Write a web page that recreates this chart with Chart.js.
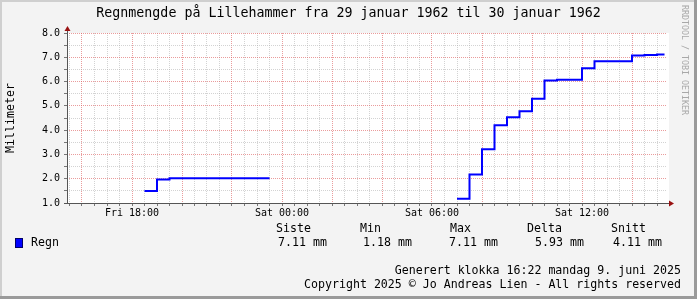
<!DOCTYPE html>
<html>
<head>
<meta charset="utf-8">
<script src="https://cdn.jsdelivr.net/npm/chart.js@4/dist/chart.umd.min.js"></script>
<style>
html,body{margin:0;padding:0;background:#f3f3f3;}
#wrap{width:697px;height:299px;position:relative;}
</style>
</head>
<body>
<div id="wrap"><canvas id="rain"></canvas></div>
<script>
// hours counted from Fri 00:00, each value holds until the next time
const sampleHours = [18.5, 19.0, 19.5, 20.0, 20.5, 21.0, 21.5, 22.0, 22.5, 23.0, 23.5, 24.0,
  31.0, 31.5, 32.0, 32.5, 33.0, 33.5, 34.0, 34.5, 35.0, 35.5, 36.0, 36.5, 37.0, 37.5, 38.0, 38.5, 39.0, 39.3];
const rainMm = [1.49, 1.97, 2.02, 2.02, 2.02, 2.02, 2.02, 2.02, 2.02, 2.02, 2.02, null,
  1.18, 2.17, 3.21, 4.20, 4.53, 4.78, 5.29, 6.04, 6.08, 6.08, 6.55, 6.84, 6.84, 6.84, 7.07, 7.09, 7.11, 7.11];

const labelHours = [18, 24, 30, 36];
const tickLabels = ["Fri 18:00", "Sat 00:00", "Sat 06:00", "Sat 12:00"];

const statNames = ["Siste", "Min", "Max", "Delta", "Snitt"];
const statValues = ["7.11 mm", "1.18 mm", "7.11 mm", "5.93 mm", "4.11 mm"];

const title = "Regnmengde på Lillehammer fra 29 januar 1962 til 30 januar 1962";
const footer1 = "Generert klokka 16:22 mandag 9. juni 2025";
const footer2 = "Copyright 2025 © Jo Andreas Lien - All rights reserved";

const MONO = '"DejaVu Sans Mono", monospace';
const majorGrid = "rgba(220,90,90,0.6)";
const minorGrid = "rgba(175,175,175,0.55)";

// -----------------------------
// background, frame, texts
// -----------------------------
const rrdLook = {
  id: "rrdLook",
  beforeDraw(chart){
    const c = chart.ctx, a = chart.chartArea;
    const W = chart.width, H = chart.height;
    c.save();
    c.fillStyle = "#f3f3f3";
    c.fillRect(0, 0, W, H);
    // shade
    c.fillStyle = "#cfcfcf";
    c.fillRect(0, 0, W, 2);
    c.fillRect(0, 0, 2, H);
    c.fillStyle = "#9a9a9a";
    c.fillRect(0, H - 3, W, 3);
    c.fillRect(W - 3, 0, 3, H);
    // canvas
    c.fillStyle = "#ffffff";
    c.fillRect(a.left, a.top, a.right - a.left + 2, a.bottom - a.top);
    c.restore();
  },
  beforeDatasetsDraw(chart){
    const c = chart.ctx, a = chart.chartArea;
    c.save();
    c.strokeStyle = "#555555";
    c.lineWidth = 1;
    c.beginPath();
    c.moveTo(a.left + 0.5, a.bottom);
    c.lineTo(a.left + 0.5, a.top - 3);
    c.moveTo(a.left - 3, a.bottom + 0.5);
    c.lineTo(a.right + 3, a.bottom + 0.5);
    c.stroke();
    c.fillStyle = "#991111";
    c.beginPath();
    c.moveTo(a.left + 0.5, a.top - 7);
    c.lineTo(a.left - 2.5, a.top - 2);
    c.lineTo(a.left + 3.5, a.top - 2);
    c.closePath();
    c.fill();
    c.beginPath();
    c.moveTo(a.right + 7, a.bottom + 0.5);
    c.lineTo(a.right + 2, a.bottom - 2.5);
    c.lineTo(a.right + 2, a.bottom + 3.5);
    c.closePath();
    c.fill();
    c.restore();
  },
  afterDraw(chart){
    const c = chart.ctx, W = chart.width;
    c.save();
    c.fillStyle = "#000000";
    c.textBaseline = "middle";

    c.font = "13.3px " + MONO;
    c.textAlign = "center";
    c.fillText(title, W / 2, 14);

    c.font = "11.6px " + MONO;
    c.save();
    c.translate(11, 118);
    c.rotate(-Math.PI / 2);
    c.fillText("Millimeter", 0, 0);
    c.restore();

    // watermark
    c.save();
    c.fillStyle = "#a8a8a8";
    c.font = "8.3px " + MONO;
    c.textAlign = "left";
    c.translate(684, 5);
    c.rotate(Math.PI / 2);
    c.fillText("RRDTOOL / TOBI OETIKER", 0, 0);
    c.restore();

    // legend
    c.textAlign = "left";
    const cols = [276, 360, 450, 527, 611];
    const valCols = [278, 363, 449, 535, 613];
    statNames.forEach((n, i) => c.fillText(n, cols[i], 229));
    statValues.forEach((v, i) => c.fillText(v, valCols[i], 243));
    c.fillText("Regn", 31, 243);
    c.fillStyle = "#0000ff";
    c.fillRect(15, 238, 8, 10);
    c.strokeStyle = "#000066";
    c.strokeRect(15.5, 238.5, 7, 9);

    c.fillStyle = "#000000";
    c.textAlign = "right";
    c.fillText(footer1, 681, 271);
    c.fillText(footer2, 681, 285);
    c.restore();
  }
};

// -----------------------------
// CHART
// -----------------------------
const points = sampleHours.map((h, i) => ({x: h, y: rainMm[i]}));

new Chart(document.getElementById("rain"), {
  type: "line",
  data: {
    datasets: [{
      label: "Regn",
      data: points,
      borderColor: "#0000ff",
      borderWidth: 2,
      pointRadius: 0,
      stepped: "before",
      spanGaps: false,
      fill: false
    }]
  },
  options: {
    responsive: true,
    maintainAspectRatio: false,
    animation: false,
    layout: {padding: {left: 0, right: 30, top: 33, bottom: 0}},
    plugins: {legend: {display: false}, title: {display: false}, tooltip: {enabled: false}},
    scales: {
      x: {
        type: "linear",
        min: 15.4,
        max: 39.4,
        afterFit(s){ s.height = 96; },
        afterBuildTicks(s){
          const t = [];
          for (let v = Math.ceil(s.min * 2) / 2; v <= s.max; v += 0.5) t.push({value: v});
          s.ticks = t;
        },
        ticks: {
          autoSkip: false,
          maxRotation: 0,
          padding: 1,
          color: "#000",
          font: {family: MONO, size: 10},
          callback(v){
            const i = labelHours.indexOf(v);
            return i >= 0 ? tickLabels[i] : "";
          }
        },
        grid: {
          color: (c) => c.tick && c.tick.value % 2 === 0 ? majorGrid : minorGrid,
          tickColor: "#777",
          tickLength: 3,
          tickBorderDash: []
        },
        border: {display: false, dash: [1, 1]}
      },
      y: {
        min: 1,
        max: 8,
        afterFit(s){ s.width = 67; },
        ticks: {
          stepSize: 0.5,
          autoSkip: false,
          padding: 4,
          color: "#000",
          font: {family: MONO, size: 10},
          callback(v){ return v % 1 === 0 ? v.toFixed(1) : ""; }
        },
        grid: {
          color: (c) => c.tick && c.tick.value % 1 === 0 ? majorGrid : minorGrid,
          tickColor: "#777",
          tickLength: 3,
          tickBorderDash: []
        },
        border: {display: false, dash: [1, 1]}
      }
    }
  },
  plugins: [rrdLook]
});
</script>
</body>
</html>
